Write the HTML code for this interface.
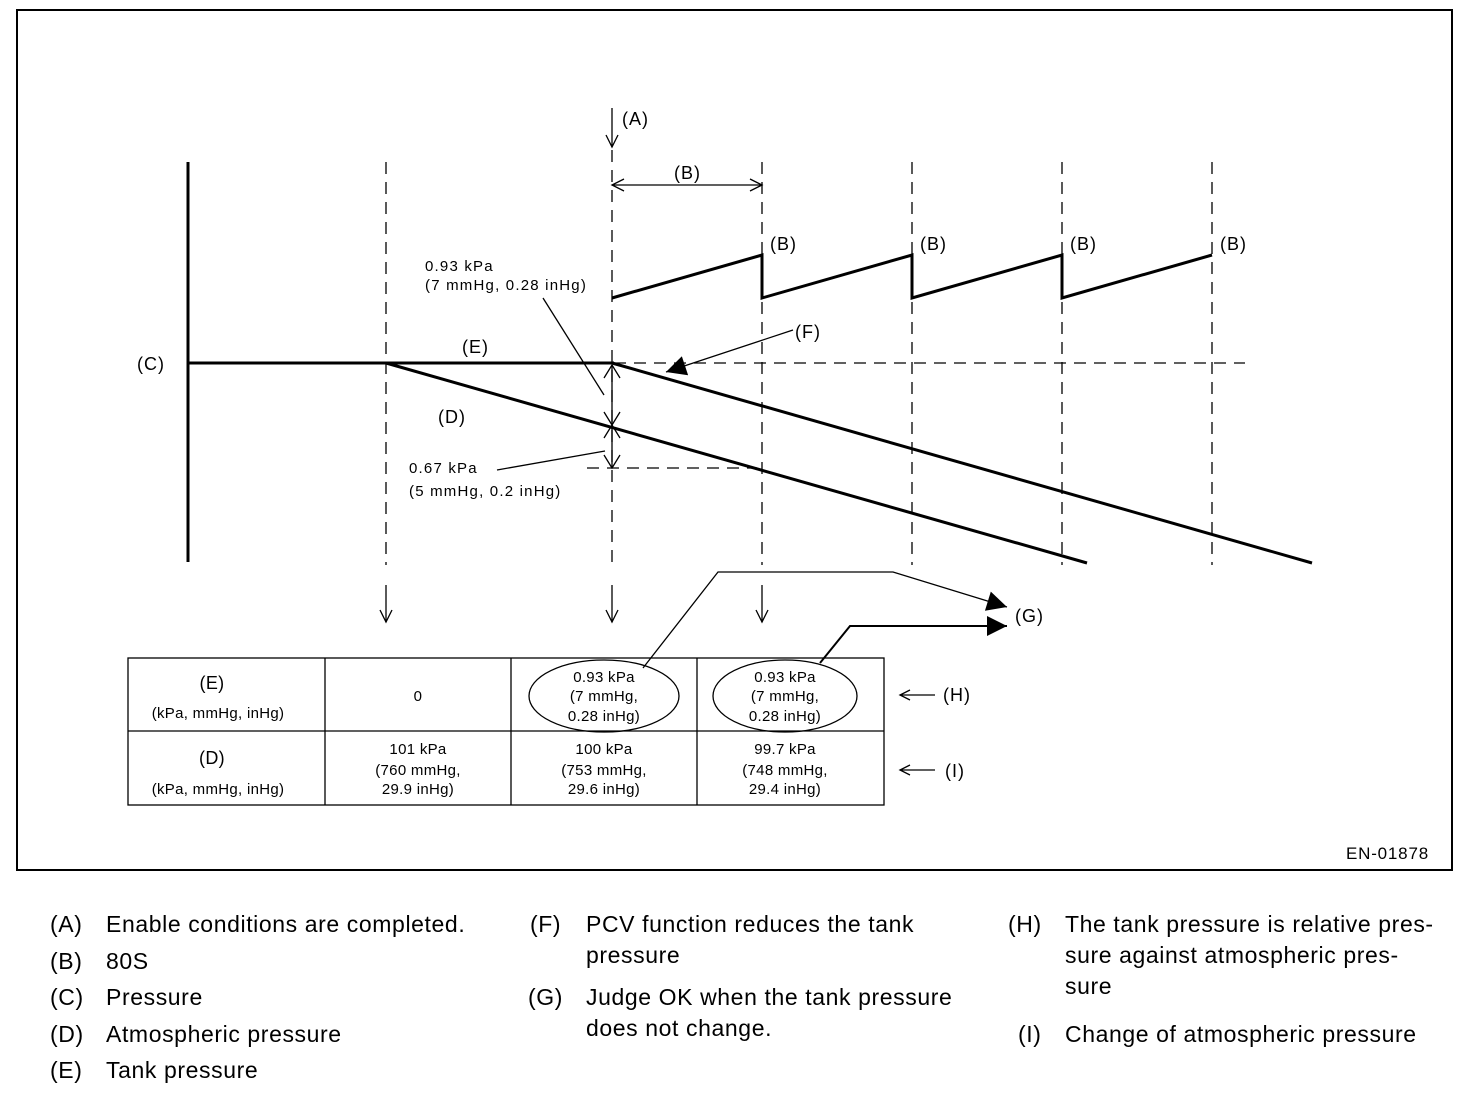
<!DOCTYPE html>
<html><head><meta charset="utf-8"><style>
body{margin:0;background:#fff;}
svg{display:block;font-family:"Liberation Sans",sans-serif;}
</style></head><body>
<svg width="1472" height="1098" viewBox="0 0 1472 1098">
<defs>
<marker id="fa" viewBox="0 0 10 10" refX="10" refY="5" markerWidth="22" markerHeight="20" markerUnits="userSpaceOnUse" orient="auto"><path d="M0,0L10,5L0,10z" fill="#000"/></marker>
</defs>
<rect x="17" y="10" width="1435" height="860" fill="none" stroke="#000" stroke-width="2"/>
<g stroke="#000" fill="none">
<line x1="188" y1="162" x2="188" y2="562" stroke-width="3"/>
<line x1="188" y1="363" x2="614" y2="363" stroke-width="3"/>
<g stroke-width="1.3" stroke-dasharray="12,8">
<line x1="386" y1="162" x2="386" y2="565"/>
<line x1="612" y1="150" x2="612" y2="565"/>
<line x1="762" y1="162" x2="762" y2="565"/>
<line x1="912" y1="162" x2="912" y2="565"/>
<line x1="1062" y1="162" x2="1062" y2="565"/>
<line x1="1212" y1="162" x2="1212" y2="565"/>
<line x1="614" y1="363" x2="1245" y2="363"/>
<line x1="587" y1="468" x2="757" y2="468"/>
</g>
<polyline points="612,298 762,255 762,298 912,255 912,298 1062,255 1062,298 1212,255" stroke-width="3"/>
<line x1="612" y1="363" x2="1312" y2="563" stroke-width="3"/>
<line x1="386" y1="363" x2="1087" y2="563" stroke-width="3"/>
<g stroke-width="1.3">
<line x1="612" y1="108" x2="612" y2="147"/><path d="M606,135L612,147L618,135"/>
<line x1="612" y1="185" x2="762" y2="185"/><path d="M624,179L612,185L624,191M750,179L762,185L750,191"/>
<line x1="612" y1="365" x2="612" y2="468"/>
<path d="M604,378L612,365L620,378M604,412L612,425L620,412M604,438L612,425L620,438M604,455L612,468L620,455"/>
<line x1="543" y1="298" x2="604" y2="395"/>
<line x1="497" y1="470" x2="605" y2="451"/>
<line x1="793" y1="330" x2="666" y2="372" marker-end="url(#fa)"/>
<line x1="386" y1="585" x2="386" y2="622"/><path d="M380,610L386,622L392,610"/>
<line x1="612" y1="585" x2="612" y2="622"/><path d="M606,610L612,622L618,610"/>
<line x1="762" y1="585" x2="762" y2="622"/><path d="M756,610L762,622L768,610"/>
<rect x="128" y="658" width="756" height="147"/>
<line x1="128" y1="731" x2="884" y2="731"/>
<line x1="325" y1="658" x2="325" y2="805"/><line x1="511" y1="658" x2="511" y2="805"/><line x1="697" y1="658" x2="697" y2="805"/>
<ellipse cx="604" cy="696" rx="75" ry="36"/>
<ellipse cx="785" cy="696" rx="72" ry="36"/>
<polyline points="643,668 718,572 893,572 1007,607" marker-end="url(#fa)"/>
<polyline points="820,663 850,626 1007,626" stroke-width="2" marker-end="url(#fa)"/>
<line x1="900" y1="695" x2="935" y2="695"/><path d="M910,690L900,695L910,700"/>
<line x1="900" y1="770" x2="935" y2="770"/><path d="M910,765L900,770L910,775"/>
</g>
</g>
<g font-size="18" fill="#000" letter-spacing="1">
<text x="622" y="125">(A)</text>
<text x="674" y="179">(B)</text>
<text x="770" y="250">(B)</text>
<text x="920" y="250">(B)</text>
<text x="1070" y="250">(B)</text>
<text x="1220" y="250">(B)</text>
<text x="137" y="370">(C)</text>
<text x="462" y="353">(E)</text>
<text x="438" y="423">(D)</text>
<text x="795" y="338">(F)</text>
<text x="1015" y="622">(G)</text>
<text x="943" y="701">(H)</text>
<text x="945" y="777">(I)</text>
</g>
<g font-size="15" fill="#000" letter-spacing="1.2">
<text x="425" y="271">0.93 kPa</text>
<text x="425" y="290">(7 mmHg, 0.28 inHg)</text>
<text x="409" y="473">0.67 kPa</text>
<text x="409" y="496">(5 mmHg, 0.2 inHg)</text>
<text x="1346" y="859" font-size="17" letter-spacing="0.8">EN-01878</text>
</g>
<g font-size="15" fill="#000" text-anchor="middle" letter-spacing="0.3">
<text x="212" y="689" font-size="18">(E)</text>
<text x="218" y="718">(kPa, mmHg, inHg)</text>
<text x="212" y="764" font-size="18">(D)</text>
<text x="218" y="794">(kPa, mmHg, inHg)</text>
<text x="418" y="701">0</text>
<text x="604" y="682">0.93 kPa</text><text x="604" y="701">(7 mmHg,</text><text x="604" y="721">0.28 inHg)</text>
<text x="785" y="682">0.93 kPa</text><text x="785" y="701">(7 mmHg,</text><text x="785" y="721">0.28 inHg)</text>
<text x="418" y="754">101 kPa</text><text x="418" y="775">(760 mmHg,</text><text x="418" y="794">29.9 inHg)</text>
<text x="604" y="754">100 kPa</text><text x="604" y="775">(753 mmHg,</text><text x="604" y="794">29.6 inHg)</text>
<text x="785" y="754">99.7 kPa</text><text x="785" y="775">(748 mmHg,</text><text x="785" y="794">29.4 inHg)</text>
</g>
<g font-size="23" fill="#000" letter-spacing="0.6">
<text x="50" y="932">(A)</text><text x="106" y="932">Enable conditions are completed.</text>
<text x="50" y="969">(B)</text><text x="106" y="969">80S</text>
<text x="50" y="1005">(C)</text><text x="106" y="1005">Pressure</text>
<text x="50" y="1042">(D)</text><text x="106" y="1042">Atmospheric pressure</text>
<text x="50" y="1078">(E)</text><text x="106" y="1078">Tank pressure</text>
<text x="530" y="932">(F)</text><text x="586" y="932">PCV function reduces the tank</text>
<text x="586" y="963">pressure</text>
<text x="528" y="1005">(G)</text><text x="586" y="1005">Judge OK when the tank pressure</text>
<text x="586" y="1036">does not change.</text>
<text x="1008" y="932">(H)</text><text x="1065" y="932">The tank pressure is relative pres-</text>
<text x="1065" y="963">sure against atmospheric pres-</text>
<text x="1065" y="994">sure</text>
<text x="1018" y="1042">(I)</text><text x="1065" y="1042">Change of atmospheric pressure</text>
</g>
</svg>
</body></html>
